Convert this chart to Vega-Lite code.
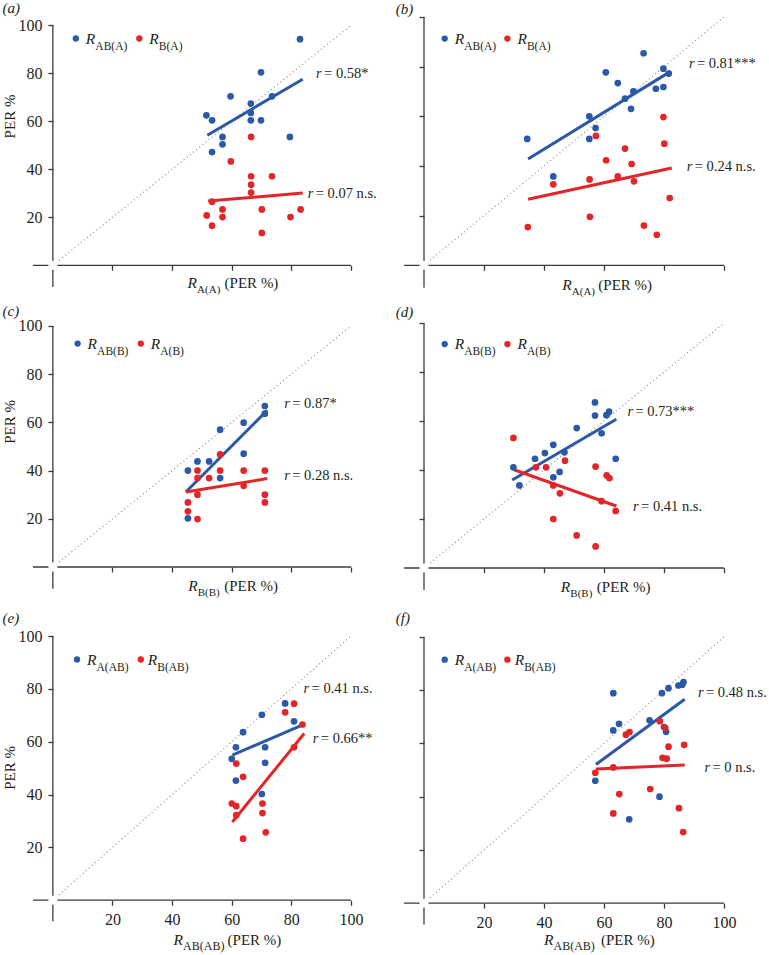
{
"$schema":"https://vega.github.io/schema/vega-lite/v6.json",
"padding":{"left":2,"top":0,"right":0,"bottom":0},
"background":"white",
"config":{"view":{"stroke":null},"font":"Liberation Serif",
"text":{"font":"Liberation Serif","fontSize":15,"color":"#231F20"},
"axis":{"grid":false,"domain":false,"tickColor":"#3A3A3A","tickWidth":1.3,"tickSize":5,"labelFont":"Liberation Serif","labelFontSize":16,"labelColor":"#231F20","labelPadding":6,"labelFlush":false}},
"datasets":{
"one":[{}],
"pts":[
{"p":"a","s":"s1","x":82.9,"y":94.2},{"p":"a","s":"s1","x":69.8,"y":80.4},{"p":"a","s":"s1","x":59.6,"y":70.4},{"p":"a","s":"s1","x":73.5,"y":70.4},{"p":"a","s":"s1","x":66.4,"y":67.4},{"p":"a","s":"s1","x":66.4,"y":63.5},{"p":"a","s":"s1","x":66.4,"y":60.4},{"p":"a","s":"s1","x":69.8,"y":60.4},{"p":"a","s":"s1","x":51.5,"y":62.5},{"p":"a","s":"s1","x":53.4,"y":60.4},{"p":"a","s":"s1","x":56.9,"y":53.5},{"p":"a","s":"s1","x":56.9,"y":50.4},{"p":"a","s":"s1","x":53.4,"y":47.2},{"p":"a","s":"s1","x":79.5,"y":53.5},
{"p":"a","s":"s2","x":66.5,"y":53.5},{"p":"a","s":"s2","x":59.7,"y":43.3},{"p":"a","s":"s2","x":66.5,"y":37.1},{"p":"a","s":"s2","x":66.5,"y":33.6},{"p":"a","s":"s2","x":66.5,"y":30.3},{"p":"a","s":"s2","x":73.5,"y":37.1},{"p":"a","s":"s2","x":53.4,"y":26.5},{"p":"a","s":"s2","x":56.9,"y":23.3},{"p":"a","s":"s2","x":56.9,"y":20.1},{"p":"a","s":"s2","x":51.6,"y":20.8},{"p":"a","s":"s2","x":53.4,"y":16.5},{"p":"a","s":"s2","x":70.1,"y":23.3},{"p":"a","s":"s2","x":70.1,"y":13.5},{"p":"a","s":"s2","x":79.7,"y":20.1},{"p":"a","s":"s2","x":83.1,"y":23.3},
{"p":"b","s":"s1","x":34.4,"y":50.9},{"p":"b","s":"s1","x":43.1,"y":35.8},{"p":"b","s":"s1","x":55.1,"y":60.0},{"p":"b","s":"s1","x":57.2,"y":55.3},{"p":"b","s":"s1","x":55.1,"y":50.9},{"p":"b","s":"s1","x":60.6,"y":77.7},{"p":"b","s":"s1","x":64.6,"y":73.4},{"p":"b","s":"s1","x":67.0,"y":67.1},{"p":"b","s":"s1","x":69.8,"y":70.1},{"p":"b","s":"s1","x":69.0,"y":63.0},{"p":"b","s":"s1","x":73.2,"y":85.4},{"p":"b","s":"s1","x":77.3,"y":71.1},{"p":"b","s":"s1","x":79.8,"y":71.8},{"p":"b","s":"s1","x":79.8,"y":79.2},{"p":"b","s":"s1","x":81.6,"y":77.2},
{"p":"b","s":"s2","x":34.6,"y":15.4},{"p":"b","s":"s2","x":43.1,"y":32.6},{"p":"b","s":"s2","x":55.2,"y":34.6},{"p":"b","s":"s2","x":57.3,"y":52.1},{"p":"b","s":"s2","x":55.3,"y":19.5},{"p":"b","s":"s2","x":60.7,"y":42.3},{"p":"b","s":"s2","x":64.6,"y":35.8},{"p":"b","s":"s2","x":67.0,"y":47.0},{"p":"b","s":"s2","x":69.2,"y":40.8},{"p":"b","s":"s2","x":70.0,"y":33.8},{"p":"b","s":"s2","x":79.8,"y":59.7},{"p":"b","s":"s2","x":80.1,"y":49.0},{"p":"b","s":"s2","x":81.9,"y":27.1},{"p":"b","s":"s2","x":73.3,"y":16.0},{"p":"b","s":"s2","x":77.6,"y":12.3},
{"p":"c","s":"s1","x":45.3,"y":40.0},{"p":"c","s":"s1","x":48.5,"y":43.8},{"p":"c","s":"s1","x":52.4,"y":43.8},{"p":"c","s":"s1","x":56.1,"y":57.0},{"p":"c","s":"s1","x":56.1,"y":36.9},{"p":"c","s":"s1","x":64.0,"y":59.9},{"p":"c","s":"s1","x":64.0,"y":47.0},{"p":"c","s":"s1","x":71.1,"y":66.8},{"p":"c","s":"s1","x":71.1,"y":63.6},{"p":"c","s":"s1","x":45.3,"y":20.2},
{"p":"c","s":"s2","x":45.3,"y":26.8},{"p":"c","s":"s2","x":45.3,"y":23.1},{"p":"c","s":"s2","x":48.5,"y":40.0},{"p":"c","s":"s2","x":48.5,"y":36.9},{"p":"c","s":"s2","x":48.5,"y":30.0},{"p":"c","s":"s2","x":48.5,"y":19.9},{"p":"c","s":"s2","x":52.4,"y":36.9},{"p":"c","s":"s2","x":56.1,"y":46.7},{"p":"c","s":"s2","x":56.1,"y":40.0},{"p":"c","s":"s2","x":64.0,"y":40.0},{"p":"c","s":"s2","x":64.0,"y":33.7},{"p":"c","s":"s2","x":71.1,"y":40.0},{"p":"c","s":"s2","x":71.1,"y":30.0},{"p":"c","s":"s2","x":71.1,"y":26.8},
{"p":"d","s":"s1","x":29.8,"y":41.1},{"p":"d","s":"s1","x":31.8,"y":33.7},{"p":"d","s":"s1","x":37.0,"y":44.6},{"p":"d","s":"s1","x":40.3,"y":46.9},{"p":"d","s":"s1","x":43.1,"y":50.3},{"p":"d","s":"s1","x":43.1,"y":37.0},{"p":"d","s":"s1","x":45.2,"y":39.2},{"p":"d","s":"s1","x":46.8,"y":47.2},{"p":"d","s":"s1","x":50.9,"y":57.1},{"p":"d","s":"s1","x":57.0,"y":67.6},{"p":"d","s":"s1","x":57.0,"y":62.2},{"p":"d","s":"s1","x":59.2,"y":55.0},{"p":"d","s":"s1","x":60.8,"y":62.4},{"p":"d","s":"s1","x":61.7,"y":63.8},{"p":"d","s":"s1","x":63.9,"y":44.6},
{"p":"d","s":"s2","x":29.8,"y":53.1},{"p":"d","s":"s2","x":37.3,"y":41.1},{"p":"d","s":"s2","x":40.7,"y":41.1},{"p":"d","s":"s2","x":47.0,"y":43.8},{"p":"d","s":"s2","x":43.1,"y":33.7},{"p":"d","s":"s2","x":45.3,"y":30.5},{"p":"d","s":"s2","x":43.1,"y":20.0},{"p":"d","s":"s2","x":50.9,"y":13.3},{"p":"d","s":"s2","x":57.2,"y":8.8},{"p":"d","s":"s2","x":57.2,"y":41.4},{"p":"d","s":"s2","x":60.9,"y":37.8},{"p":"d","s":"s2","x":61.8,"y":36.7},{"p":"d","s":"s2","x":59.2,"y":27.3},{"p":"d","s":"s2","x":63.9,"y":23.3},
{"p":"e","s":"s1","x":60.0,"y":53.5},{"p":"e","s":"s1","x":61.4,"y":57.9},{"p":"e","s":"s1","x":61.4,"y":45.3},{"p":"e","s":"s1","x":63.8,"y":63.6},{"p":"e","s":"s1","x":70.1,"y":70.2},{"p":"e","s":"s1","x":71.2,"y":57.9},{"p":"e","s":"s1","x":71.2,"y":52.0},{"p":"e","s":"s1","x":70.1,"y":40.2},{"p":"e","s":"s1","x":77.9,"y":74.5},{"p":"e","s":"s1","x":80.9,"y":67.7},
{"p":"e","s":"s2","x":61.5,"y":51.7},{"p":"e","s":"s2","x":63.8,"y":46.7},{"p":"e","s":"s2","x":60.0,"y":36.6},{"p":"e","s":"s2","x":61.5,"y":35.6},{"p":"e","s":"s2","x":61.5,"y":32.2},{"p":"e","s":"s2","x":63.8,"y":23.3},{"p":"e","s":"s2","x":70.3,"y":36.6},{"p":"e","s":"s2","x":70.3,"y":33.0},{"p":"e","s":"s2","x":71.4,"y":25.7},{"p":"e","s":"s2","x":77.9,"y":71.1},{"p":"e","s":"s2","x":80.9,"y":74.4},{"p":"e","s":"s2","x":80.9,"y":57.9},{"p":"e","s":"s2","x":83.7,"y":66.5},
{"p":"f","s":"s1","x":57.1,"y":46.0},{"p":"f","s":"s1","x":63.1,"y":78.9},{"p":"f","s":"s1","x":63.1,"y":64.9},{"p":"f","s":"s1","x":65.0,"y":67.4},{"p":"f","s":"s1","x":75.2,"y":68.7},{"p":"f","s":"s1","x":79.3,"y":78.9},{"p":"f","s":"s1","x":81.5,"y":80.8},{"p":"f","s":"s1","x":84.8,"y":81.8},{"p":"f","s":"s1","x":86.5,"y":83.1},{"p":"f","s":"s1","x":86.1,"y":82.1},{"p":"f","s":"s1","x":80.0,"y":66.2},{"p":"f","s":"s1","x":80.7,"y":64.4},{"p":"f","s":"s1","x":78.5,"y":40.0},{"p":"f","s":"s1","x":68.4,"y":31.5},
{"p":"f","s":"s2","x":57.1,"y":49.0},{"p":"f","s":"s2","x":63.1,"y":51.0},{"p":"f","s":"s2","x":67.3,"y":63.3},{"p":"f","s":"s2","x":68.5,"y":64.3},{"p":"f","s":"s2","x":78.6,"y":68.4},{"p":"f","s":"s2","x":80.4,"y":65.9},{"p":"f","s":"s2","x":81.5,"y":58.8},{"p":"f","s":"s2","x":86.7,"y":59.5},{"p":"f","s":"s2","x":79.5,"y":54.6},{"p":"f","s":"s2","x":80.9,"y":54.3},{"p":"f","s":"s2","x":75.4,"y":42.9},{"p":"f","s":"s2","x":65.1,"y":41.0},{"p":"f","s":"s2","x":63.1,"y":33.7},{"p":"f","s":"s2","x":85.0,"y":35.7},{"p":"f","s":"s2","x":86.4,"y":26.7}
],
"fits":[
{"p":"a","s":"s1","x":51.8,"y":54.2},{"p":"a","s":"s1","x":83.8,"y":77.5},{"p":"a","s":"s2","x":52.1,"y":26.8},{"p":"a","s":"s2","x":83.8,"y":30.1},
{"p":"b","s":"s1","x":34.7,"y":42.8},{"p":"b","s":"s1","x":82.2,"y":78.1},{"p":"b","s":"s2","x":34.7,"y":26.6},{"p":"b","s":"s2","x":82.6,"y":39.2},
{"p":"c","s":"s1","x":44.6,"y":31.1},{"p":"c","s":"s1","x":71.9,"y":65.0},{"p":"c","s":"s2","x":44.6,"y":31.1},{"p":"c","s":"s2","x":71.9,"y":36.7},
{"p":"d","s":"s1","x":29.4,"y":35.9},{"p":"d","s":"s1","x":64.1,"y":60.7},{"p":"d","s":"s2","x":30.0,"y":40.1},{"p":"d","s":"s2","x":64.1,"y":25.3},
{"p":"e","s":"s1","x":60.2,"y":54.9},{"p":"e","s":"s1","x":83.2,"y":66.1},{"p":"e","s":"s2","x":60.2,"y":29.6},{"p":"e","s":"s2","x":84.3,"y":63.1},
{"p":"f","s":"s1","x":57.3,"y":52.1},{"p":"f","s":"s1","x":86.9,"y":76.6},{"p":"f","s":"s2","x":57.3,"y":50.4},{"p":"f","s":"s2","x":86.9,"y":51.9}
]},
"columns":2,
"bounds":"flush",
"spacing":{"row":30,"column":52},
"concat":[
{"width":319,"height":276,"data":{"name":"one"},"layer":[
{"mark":{"type":"rule","color":"#8C8C8C","strokeWidth":1.2,"strokeDash":[1,3]},"encoding":{"x":{"datum":0},"y":{"datum":0},"x2":{"datum":100},"y2":{"datum":100}}},
{"mark":{"type":"rule","color":"#3A3A3A","strokeWidth":1.3},"encoding":{"x":{"datum":-6.7},"x2":{"datum":100},"y":{"datum":0}}},
{"mark":{"type":"rule","color":"#3A3A3A","strokeWidth":1.3},"encoding":{"x":{"datum":0},"y":{"datum":-9},"y2":{"datum":100}}},
{"mark":{"type":"square","color":"white","size":80,"opacity":1,"filled":true},"encoding":{"x":{"datum":0},"y":{"datum":0}}},
{"data":{"name":"fits"},"transform":[{"filter":"datum.p==='a'"}],"mark":{"type":"line","strokeWidth":3},"encoding":{"x":{"field":"x","type":"quantitative","title":null},"y":{"field":"y","type":"quantitative","title":null},"color":{"field":"s","type":"nominal","scale":{"domain":["s1","s2"],"range":["#2B58A7","#E42528"]},"legend":null}}},
{"data":{"name":"pts"},"transform":[{"filter":"datum.p==='a'"}],"mark":{"type":"circle","size":45,"opacity":1},"encoding":{"x":{"field":"x","type":"quantitative","title":null,"scale":{"domain":[-7,100],"nice":false,"zero":false},"axis":{"values":[20,40,60,80,100],"labels":false,"offset":-27.7,"title":null}},"y":{"field":"y","type":"quantitative","title":null,"scale":{"domain":[-11.54,103.46],"nice":false,"zero":false},"axis":{"values":[20,40,60,80,100],"labels":true,"offset":-20.9,"title":null}},"color":{"field":"s","type":"nominal","scale":{"domain":["s1","s2"],"range":["#2B58A7","#E42528"]},"legend":null}}},
{"mark":{"type":"circle","size":40,"color":"#2B58A7","opacity":1},"encoding":{"x":{"datum":7.7},"y":{"datum":94.5}}},
{"mark":{"type":"text","fontStyle":"italic","align":"left","baseline":"alphabetic","fontSize":15.5,"dx":10,"dy":5},"encoding":{"x":{"datum":7.7},"y":{"datum":94.5},"text":{"value":"R"}}},
{"mark":{"type":"text","align":"left","baseline":"alphabetic","fontSize":11.5,"dx":19.5,"dy":11},"encoding":{"x":{"datum":7.7},"y":{"datum":94.5},"text":{"value":"AB(A)"}}},
{"mark":{"type":"circle","size":40,"color":"#E42528","opacity":1},"encoding":{"x":{"datum":29.0},"y":{"datum":94.5}}},
{"mark":{"type":"text","fontStyle":"italic","align":"left","baseline":"alphabetic","fontSize":15.5,"dx":10,"dy":5},"encoding":{"x":{"datum":29.0},"y":{"datum":94.5},"text":{"value":"R"}}},
{"mark":{"type":"text","align":"left","baseline":"alphabetic","fontSize":11.5,"dx":19.5,"dy":11},"encoding":{"x":{"datum":29.0},"y":{"datum":94.5},"text":{"value":"B(A)"}}},
{"mark":{"type":"text","fontStyle":"italic","align":"left","baseline":"middle","fontSize":14.5},"encoding":{"x":{"datum":88.3},"y":{"datum":79.6},"text":{"value":"r"}}},
{"mark":{"type":"text","align":"left","baseline":"middle","fontSize":14.5,"dx":8},"encoding":{"x":{"datum":88.3},"y":{"datum":79.6},"text":{"value":"= 0.58*"}}},
{"mark":{"type":"text","fontStyle":"italic","align":"left","baseline":"middle","fontSize":14.5},"encoding":{"x":{"datum":85.5},"y":{"datum":29.9},"text":{"value":"r"}}},
{"mark":{"type":"text","align":"left","baseline":"middle","fontSize":14.5,"dx":8},"encoding":{"x":{"datum":85.5},"y":{"datum":29.9},"text":{"value":"= 0.07 n.s."}}},
{"mark":{"type":"text","fontStyle":"italic","align":"left","baseline":"middle","fontSize":15},"encoding":{"x":{"datum":-16.9},"y":{"datum":107.3},"text":{"value":"(a)"}}},
{"mark":{"type":"text","fontStyle":"italic","align":"left","baseline":"alphabetic","fontSize":15.5},"encoding":{"x":{"datum":45.2},"y":{"datum":-9.6},"text":{"value":"R"}}},
{"mark":{"type":"text","align":"left","baseline":"alphabetic","fontSize":11,"dx":9.5,"dy":5},"encoding":{"x":{"datum":45.2},"y":{"datum":-9.6},"text":{"value":"A(A)"}}},
{"mark":{"type":"text","align":"left","baseline":"alphabetic","fontSize":15,"dx":37},"encoding":{"x":{"datum":45.2},"y":{"datum":-9.6},"text":{"value":"(PER %)"}}},
{"mark":{"type":"text","angle":270,"align":"center","baseline":"middle","fontSize":15},"encoding":{"x":{"datum":-14.3},"y":{"datum":62},"text":{"value":"PER %"}}}
]},
{"width":321,"height":276,"data":{"name":"one"},"layer":[
{"mark":{"type":"rule","color":"#8C8C8C","strokeWidth":1.2,"strokeDash":[1,3]},"encoding":{"x":{"datum":0},"y":{"datum":0},"x2":{"datum":100},"y2":{"datum":100}}},
{"mark":{"type":"rule","color":"#3A3A3A","strokeWidth":1.3},"encoding":{"x":{"datum":-6.7},"x2":{"datum":100},"y":{"datum":0}}},
{"mark":{"type":"rule","color":"#3A3A3A","strokeWidth":1.3},"encoding":{"x":{"datum":0},"y":{"datum":-9},"y2":{"datum":100}}},
{"mark":{"type":"square","color":"white","size":80,"opacity":1,"filled":true},"encoding":{"x":{"datum":0},"y":{"datum":0}}},
{"data":{"name":"fits"},"transform":[{"filter":"datum.p==='b'"}],"mark":{"type":"line","strokeWidth":3},"encoding":{"x":{"field":"x","type":"quantitative","title":null},"y":{"field":"y","type":"quantitative","title":null},"color":{"field":"s","type":"nominal","scale":{"domain":["s1","s2"],"range":["#2B58A7","#E42528"]},"legend":null}}},
{"data":{"name":"pts"},"transform":[{"filter":"datum.p==='b'"}],"mark":{"type":"circle","size":45,"opacity":1},"encoding":{"x":{"field":"x","type":"quantitative","title":null,"scale":{"domain":[-7,100],"nice":false,"zero":false},"axis":{"values":[20,40,60,80,100],"labels":false,"offset":-27.7,"title":null}},"y":{"field":"y","type":"quantitative","title":null,"scale":{"domain":[-11.16,100],"nice":false,"zero":false},"axis":{"values":[20,40,60,80,100],"labels":false,"offset":-21,"title":null}},"color":{"field":"s","type":"nominal","scale":{"domain":["s1","s2"],"range":["#2B58A7","#E42528"]},"legend":null}}},
{"mark":{"type":"circle","size":40,"color":"#2B58A7","opacity":1},"encoding":{"x":{"datum":6.9},"y":{"datum":91.3}}},
{"mark":{"type":"text","fontStyle":"italic","align":"left","baseline":"alphabetic","fontSize":15.5,"dx":10,"dy":5},"encoding":{"x":{"datum":6.9},"y":{"datum":91.3},"text":{"value":"R"}}},
{"mark":{"type":"text","align":"left","baseline":"alphabetic","fontSize":11.5,"dx":19.5,"dy":11},"encoding":{"x":{"datum":6.9},"y":{"datum":91.3},"text":{"value":"AB(A)"}}},
{"mark":{"type":"circle","size":40,"color":"#E42528","opacity":1},"encoding":{"x":{"datum":27.8},"y":{"datum":91.3}}},
{"mark":{"type":"text","fontStyle":"italic","align":"left","baseline":"alphabetic","fontSize":15.5,"dx":10,"dy":5},"encoding":{"x":{"datum":27.8},"y":{"datum":91.3},"text":{"value":"R"}}},
{"mark":{"type":"text","align":"left","baseline":"alphabetic","fontSize":11.5,"dx":19.5,"dy":11},"encoding":{"x":{"datum":27.8},"y":{"datum":91.3},"text":{"value":"B(A)"}}},
{"mark":{"type":"text","fontStyle":"italic","align":"left","baseline":"middle","fontSize":14.5},"encoding":{"x":{"datum":88.3},"y":{"datum":81.2},"text":{"value":"r"}}},
{"mark":{"type":"text","align":"left","baseline":"middle","fontSize":14.5,"dx":8},"encoding":{"x":{"datum":88.3},"y":{"datum":81.2},"text":{"value":"= 0.81***"}}},
{"mark":{"type":"text","fontStyle":"italic","align":"left","baseline":"middle","fontSize":14.5},"encoding":{"x":{"datum":87.6},"y":{"datum":39.6},"text":{"value":"r"}}},
{"mark":{"type":"text","align":"left","baseline":"middle","fontSize":14.5,"dx":8},"encoding":{"x":{"datum":87.6},"y":{"datum":39.6},"text":{"value":"= 0.24 n.s."}}},
{"mark":{"type":"text","fontStyle":"italic","align":"left","baseline":"middle","fontSize":15},"encoding":{"x":{"datum":-9.4},"y":{"datum":103.1},"text":{"value":"(b)"}}},
{"mark":{"type":"text","fontStyle":"italic","align":"left","baseline":"alphabetic","fontSize":15.5},"encoding":{"x":{"datum":46.1},"y":{"datum":-9.8},"text":{"value":"R"}}},
{"mark":{"type":"text","align":"left","baseline":"alphabetic","fontSize":11,"dx":9.5,"dy":5},"encoding":{"x":{"datum":46.1},"y":{"datum":-9.8},"text":{"value":"A(A)"}}},
{"mark":{"type":"text","align":"left","baseline":"alphabetic","fontSize":15,"dx":36},"encoding":{"x":{"datum":46.1},"y":{"datum":-9.8},"text":{"value":"(PER %)"}}}
]},
{"width":319,"height":283,"data":{"name":"one"},"layer":[
{"mark":{"type":"rule","color":"#8C8C8C","strokeWidth":1.2,"strokeDash":[1,3]},"encoding":{"x":{"datum":0},"y":{"datum":0},"x2":{"datum":100},"y2":{"datum":100}}},
{"mark":{"type":"rule","color":"#3A3A3A","strokeWidth":1.3},"encoding":{"x":{"datum":-6.7},"x2":{"datum":100},"y":{"datum":0}}},
{"mark":{"type":"rule","color":"#3A3A3A","strokeWidth":1.3},"encoding":{"x":{"datum":0},"y":{"datum":-9},"y2":{"datum":100}}},
{"mark":{"type":"square","color":"white","size":80,"opacity":1,"filled":true},"encoding":{"x":{"datum":0},"y":{"datum":0}}},
{"data":{"name":"fits"},"transform":[{"filter":"datum.p==='c'"}],"mark":{"type":"line","strokeWidth":3},"encoding":{"x":{"field":"x","type":"quantitative","title":null},"y":{"field":"y","type":"quantitative","title":null},"color":{"field":"s","type":"nominal","scale":{"domain":["s1","s2"],"range":["#2B58A7","#E42528"]},"legend":null}}},
{"data":{"name":"pts"},"transform":[{"filter":"datum.p==='c'"}],"mark":{"type":"circle","size":45,"opacity":1},"encoding":{"x":{"field":"x","type":"quantitative","title":null,"scale":{"domain":[-7,100],"nice":false,"zero":false},"axis":{"values":[20,40,60,80,100],"labels":false,"offset":-39,"title":null}},"y":{"field":"y","type":"quantitative","title":null,"scale":{"domain":[-16.18,101.24],"nice":false,"zero":false},"axis":{"values":[20,40,60,80,100],"labels":true,"offset":-20.9,"title":null}},"color":{"field":"s","type":"nominal","scale":{"domain":["s1","s2"],"range":["#2B58A7","#E42528"]},"legend":null}}},
{"mark":{"type":"circle","size":40,"color":"#2B58A7","opacity":1},"encoding":{"x":{"datum":8.3},"y":{"datum":92.7}}},
{"mark":{"type":"text","fontStyle":"italic","align":"left","baseline":"alphabetic","fontSize":15.5,"dx":10,"dy":5},"encoding":{"x":{"datum":8.3},"y":{"datum":92.7},"text":{"value":"R"}}},
{"mark":{"type":"text","align":"left","baseline":"alphabetic","fontSize":11.5,"dx":19.5,"dy":11},"encoding":{"x":{"datum":8.3},"y":{"datum":92.7},"text":{"value":"AB(B)"}}},
{"mark":{"type":"circle","size":40,"color":"#E42528","opacity":1},"encoding":{"x":{"datum":29.5},"y":{"datum":92.7}}},
{"mark":{"type":"text","fontStyle":"italic","align":"left","baseline":"alphabetic","fontSize":15.5,"dx":10,"dy":5},"encoding":{"x":{"datum":29.5},"y":{"datum":92.7},"text":{"value":"R"}}},
{"mark":{"type":"text","align":"left","baseline":"alphabetic","fontSize":11.5,"dx":19.5,"dy":11},"encoding":{"x":{"datum":29.5},"y":{"datum":92.7},"text":{"value":"A(B)"}}},
{"mark":{"type":"text","fontStyle":"italic","align":"left","baseline":"middle","fontSize":14.5},"encoding":{"x":{"datum":77.6},"y":{"datum":67.8},"text":{"value":"r"}}},
{"mark":{"type":"text","align":"left","baseline":"middle","fontSize":14.5,"dx":8},"encoding":{"x":{"datum":77.6},"y":{"datum":67.8},"text":{"value":"= 0.87*"}}},
{"mark":{"type":"text","fontStyle":"italic","align":"left","baseline":"middle","fontSize":14.5},"encoding":{"x":{"datum":77.6},"y":{"datum":37.8},"text":{"value":"r"}}},
{"mark":{"type":"text","align":"left","baseline":"middle","fontSize":14.5,"dx":8},"encoding":{"x":{"datum":77.6},"y":{"datum":37.8},"text":{"value":"= 0.28 n.s."}}},
{"mark":{"type":"text","fontStyle":"italic","align":"left","baseline":"middle","fontSize":15},"encoding":{"x":{"datum":-16.9},"y":{"datum":106.1},"text":{"value":"(c)"}}},
{"mark":{"type":"text","fontStyle":"italic","align":"left","baseline":"alphabetic","fontSize":15.5},"encoding":{"x":{"datum":45.4},"y":{"datum":-10.1},"text":{"value":"R"}}},
{"mark":{"type":"text","align":"left","baseline":"alphabetic","fontSize":11,"dx":9.5,"dy":5},"encoding":{"x":{"datum":45.4},"y":{"datum":-10.1},"text":{"value":"B(B)"}}},
{"mark":{"type":"text","align":"left","baseline":"alphabetic","fontSize":15,"dx":36},"encoding":{"x":{"datum":45.4},"y":{"datum":-10.1},"text":{"value":"(PER %)"}}},
{"mark":{"type":"text","angle":270,"align":"center","baseline":"middle","fontSize":15},"encoding":{"x":{"datum":-14.3},"y":{"datum":60.2},"text":{"value":"PER %"}}}
]},
{"width":321,"height":283,"data":{"name":"one"},"layer":[
{"mark":{"type":"rule","color":"#8C8C8C","strokeWidth":1.2,"strokeDash":[1,3]},"encoding":{"x":{"datum":0},"y":{"datum":0},"x2":{"datum":100},"y2":{"datum":100}}},
{"mark":{"type":"rule","color":"#3A3A3A","strokeWidth":1.3},"encoding":{"x":{"datum":-6.7},"x2":{"datum":100},"y":{"datum":0}}},
{"mark":{"type":"rule","color":"#3A3A3A","strokeWidth":1.3},"encoding":{"x":{"datum":0},"y":{"datum":-9},"y2":{"datum":100}}},
{"mark":{"type":"square","color":"white","size":80,"opacity":1,"filled":true},"encoding":{"x":{"datum":0},"y":{"datum":0}}},
{"data":{"name":"fits"},"transform":[{"filter":"datum.p==='d'"}],"mark":{"type":"line","strokeWidth":3},"encoding":{"x":{"field":"x","type":"quantitative","title":null},"y":{"field":"y","type":"quantitative","title":null},"color":{"field":"s","type":"nominal","scale":{"domain":["s1","s2"],"range":["#2B58A7","#E42528"]},"legend":null}}},
{"data":{"name":"pts"},"transform":[{"filter":"datum.p==='d'"}],"mark":{"type":"circle","size":45,"opacity":1},"encoding":{"x":{"field":"x","type":"quantitative","title":null,"scale":{"domain":[-7,100],"nice":false,"zero":false},"axis":{"values":[20,40,60,80,100],"labels":false,"offset":-38.3,"title":null}},"y":{"field":"y","type":"quantitative","title":null,"scale":{"domain":[-15.5,100],"nice":false,"zero":false},"axis":{"values":[20,40,60,80,100],"labels":false,"offset":-21,"title":null}},"color":{"field":"s","type":"nominal","scale":{"domain":["s1","s2"],"range":["#2B58A7","#E42528"]},"legend":null}}},
{"mark":{"type":"circle","size":40,"color":"#2B58A7","opacity":1},"encoding":{"x":{"datum":6.9},"y":{"datum":91.4}}},
{"mark":{"type":"text","fontStyle":"italic","align":"left","baseline":"alphabetic","fontSize":15.5,"dx":10,"dy":5},"encoding":{"x":{"datum":6.9},"y":{"datum":91.4},"text":{"value":"R"}}},
{"mark":{"type":"text","align":"left","baseline":"alphabetic","fontSize":11.5,"dx":19.5,"dy":11},"encoding":{"x":{"datum":6.9},"y":{"datum":91.4},"text":{"value":"AB(B)"}}},
{"mark":{"type":"circle","size":40,"color":"#E42528","opacity":1},"encoding":{"x":{"datum":27.8},"y":{"datum":91.4}}},
{"mark":{"type":"text","fontStyle":"italic","align":"left","baseline":"alphabetic","fontSize":15.5,"dx":10,"dy":5},"encoding":{"x":{"datum":27.8},"y":{"datum":91.4},"text":{"value":"R"}}},
{"mark":{"type":"text","align":"left","baseline":"alphabetic","fontSize":11.5,"dx":19.5,"dy":11},"encoding":{"x":{"datum":27.8},"y":{"datum":91.4},"text":{"value":"A(B)"}}},
{"mark":{"type":"text","fontStyle":"italic","align":"left","baseline":"middle","fontSize":14.5},"encoding":{"x":{"datum":67.8},"y":{"datum":63.5},"text":{"value":"r"}}},
{"mark":{"type":"text","align":"left","baseline":"middle","fontSize":14.5,"dx":8},"encoding":{"x":{"datum":67.8},"y":{"datum":63.5},"text":{"value":"= 0.73***"}}},
{"mark":{"type":"text","fontStyle":"italic","align":"left","baseline":"middle","fontSize":14.5},"encoding":{"x":{"datum":69.7},"y":{"datum":25.0},"text":{"value":"r"}}},
{"mark":{"type":"text","align":"left","baseline":"middle","fontSize":14.5,"dx":8},"encoding":{"x":{"datum":69.7},"y":{"datum":25.0},"text":{"value":"= 0.41 n.s."}}},
{"mark":{"type":"text","fontStyle":"italic","align":"left","baseline":"middle","fontSize":15},"encoding":{"x":{"datum":-9.4},"y":{"datum":104.6},"text":{"value":"(d)"}}},
{"mark":{"type":"text","fontStyle":"italic","align":"left","baseline":"alphabetic","fontSize":15.5},"encoding":{"x":{"datum":45.6},"y":{"datum":-9.7},"text":{"value":"R"}}},
{"mark":{"type":"text","align":"left","baseline":"alphabetic","fontSize":11,"dx":9.5,"dy":5},"encoding":{"x":{"datum":45.6},"y":{"datum":-9.7},"text":{"value":"B(B)"}}},
{"mark":{"type":"text","align":"left","baseline":"alphabetic","fontSize":15,"dx":36},"encoding":{"x":{"datum":45.6},"y":{"datum":-9.7},"text":{"value":"(PER %)"}}}
]},
{"width":319,"height":288,"data":{"name":"one"},"layer":[
{"mark":{"type":"rule","color":"#8C8C8C","strokeWidth":1.2,"strokeDash":[1,3]},"encoding":{"x":{"datum":0},"y":{"datum":0},"x2":{"datum":100},"y2":{"datum":100}}},
{"mark":{"type":"rule","color":"#3A3A3A","strokeWidth":1.3},"encoding":{"x":{"datum":-6.7},"x2":{"datum":100},"y":{"datum":0}}},
{"mark":{"type":"rule","color":"#3A3A3A","strokeWidth":1.3},"encoding":{"x":{"datum":0},"y":{"datum":-8},"y2":{"datum":100}}},
{"mark":{"type":"square","color":"white","size":80,"opacity":1,"filled":true},"encoding":{"x":{"datum":0},"y":{"datum":0}}},
{"data":{"name":"fits"},"transform":[{"filter":"datum.p==='e'"}],"mark":{"type":"line","strokeWidth":3},"encoding":{"x":{"field":"x","type":"quantitative","title":null},"y":{"field":"y","type":"quantitative","title":null},"color":{"field":"s","type":"nominal","scale":{"domain":["s1","s2"],"range":["#2B58A7","#E42528"]},"legend":null}}},
{"data":{"name":"pts"},"transform":[{"filter":"datum.p==='e'"}],"mark":{"type":"circle","size":45,"opacity":1},"encoding":{"x":{"field":"x","type":"quantitative","title":null,"scale":{"domain":[-7,100],"nice":false,"zero":false},"axis":{"values":[20,40,60,80,100],"labels":true,"offset":-23.7,"title":null}},"y":{"field":"y","type":"quantitative","title":null,"scale":{"domain":[-9,100],"nice":false,"zero":false},"axis":{"values":[20,40,60,80,100],"labels":true,"offset":-20.9,"title":null}},"color":{"field":"s","type":"nominal","scale":{"domain":["s1","s2"],"range":["#2B58A7","#E42528"]},"legend":null}}},
{"mark":{"type":"circle","size":40,"color":"#2B58A7","opacity":1},"encoding":{"x":{"datum":8.1},"y":{"datum":91.1}}},
{"mark":{"type":"text","fontStyle":"italic","align":"left","baseline":"alphabetic","fontSize":15.5,"dx":10,"dy":5},"encoding":{"x":{"datum":8.1},"y":{"datum":91.1},"text":{"value":"R"}}},
{"mark":{"type":"text","align":"left","baseline":"alphabetic","fontSize":11.5,"dx":19.5,"dy":11},"encoding":{"x":{"datum":8.1},"y":{"datum":91.1},"text":{"value":"A(AB)"}}},
{"mark":{"type":"circle","size":40,"color":"#E42528","opacity":1},"encoding":{"x":{"datum":29.5},"y":{"datum":91.1}}},
{"mark":{"type":"text","fontStyle":"italic","align":"left","baseline":"alphabetic","fontSize":15.5,"dx":7,"dy":5},"encoding":{"x":{"datum":29.5},"y":{"datum":91.1},"text":{"value":"R"}}},
{"mark":{"type":"text","align":"left","baseline":"alphabetic","fontSize":11.5,"dx":16.5,"dy":11},"encoding":{"x":{"datum":29.5},"y":{"datum":91.1},"text":{"value":"B(AB)"}}},
{"mark":{"type":"text","fontStyle":"italic","align":"left","baseline":"middle","fontSize":14.5},"encoding":{"x":{"datum":84.1},"y":{"datum":80.1},"text":{"value":"r"}}},
{"mark":{"type":"text","align":"left","baseline":"middle","fontSize":14.5,"dx":8},"encoding":{"x":{"datum":84.1},"y":{"datum":80.1},"text":{"value":"= 0.41 n.s."}}},
{"mark":{"type":"text","fontStyle":"italic","align":"left","baseline":"middle","fontSize":14.5},"encoding":{"x":{"datum":87.2},"y":{"datum":60.9},"text":{"value":"r"}}},
{"mark":{"type":"text","align":"left","baseline":"middle","fontSize":14.5,"dx":8},"encoding":{"x":{"datum":87.2},"y":{"datum":60.9},"text":{"value":"= 0.66**"}}},
{"mark":{"type":"text","fontStyle":"italic","align":"left","baseline":"middle","fontSize":15},"encoding":{"x":{"datum":-16.9},"y":{"datum":106.7},"text":{"value":"(e)"}}},
{"mark":{"type":"text","fontStyle":"italic","align":"left","baseline":"alphabetic","fontSize":15.5},"encoding":{"x":{"datum":40.5},"y":{"datum":-17.0},"text":{"value":"R"}}},
{"mark":{"type":"text","align":"left","baseline":"alphabetic","fontSize":12,"dx":9.5,"dy":5},"encoding":{"x":{"datum":40.5},"y":{"datum":-17.0},"text":{"value":"AB(AB)"}}},
{"mark":{"type":"text","align":"left","baseline":"alphabetic","fontSize":15,"dx":54},"encoding":{"x":{"datum":40.5},"y":{"datum":-17.0},"text":{"value":"(PER %)"}}},
{"mark":{"type":"text","angle":270,"align":"center","baseline":"middle","fontSize":15},"encoding":{"x":{"datum":-14.3},"y":{"datum":50.1},"text":{"value":"PER %"}}}
]},
{"width":321,"height":290,"data":{"name":"one"},"layer":[
{"mark":{"type":"rule","color":"#8C8C8C","strokeWidth":1.2,"strokeDash":[1,3]},"encoding":{"x":{"datum":0},"y":{"datum":0},"x2":{"datum":100},"y2":{"datum":100}}},
{"mark":{"type":"rule","color":"#3A3A3A","strokeWidth":1.3},"encoding":{"x":{"datum":-6.7},"x2":{"datum":100},"y":{"datum":0}}},
{"mark":{"type":"rule","color":"#3A3A3A","strokeWidth":1.3},"encoding":{"x":{"datum":0},"y":{"datum":-8},"y2":{"datum":100}}},
{"mark":{"type":"square","color":"white","size":80,"opacity":1,"filled":true},"encoding":{"x":{"datum":0},"y":{"datum":0}}},
{"data":{"name":"fits"},"transform":[{"filter":"datum.p==='f'"}],"mark":{"type":"line","strokeWidth":3},"encoding":{"x":{"field":"x","type":"quantitative","title":null},"y":{"field":"y","type":"quantitative","title":null},"color":{"field":"s","type":"nominal","scale":{"domain":["s1","s2"],"range":["#2B58A7","#E42528"]},"legend":null}}},
{"data":{"name":"pts"},"transform":[{"filter":"datum.p==='f'"}],"mark":{"type":"circle","size":45,"opacity":1},"encoding":{"x":{"field":"x","type":"quantitative","title":null,"scale":{"domain":[-7,100],"nice":false,"zero":false},"axis":{"values":[20,40,60,80,100],"labels":true,"offset":-22.9,"title":null}},"y":{"field":"y","type":"quantitative","title":null,"scale":{"domain":[-8.6,100.4],"nice":false,"zero":false},"axis":{"values":[20,40,60,80,100],"labels":false,"offset":-21,"title":null}},"color":{"field":"s","type":"nominal","scale":{"domain":["s1","s2"],"range":["#2B58A7","#E42528"]},"legend":null}}},
{"mark":{"type":"circle","size":40,"color":"#2B58A7","opacity":1},"encoding":{"x":{"datum":6.9},"y":{"datum":91.5}}},
{"mark":{"type":"text","fontStyle":"italic","align":"left","baseline":"alphabetic","fontSize":15.5,"dx":10,"dy":5},"encoding":{"x":{"datum":6.9},"y":{"datum":91.5},"text":{"value":"R"}}},
{"mark":{"type":"text","align":"left","baseline":"alphabetic","fontSize":11.5,"dx":19.5,"dy":11},"encoding":{"x":{"datum":6.9},"y":{"datum":91.5},"text":{"value":"A(AB)"}}},
{"mark":{"type":"circle","size":40,"color":"#E42528","opacity":1},"encoding":{"x":{"datum":27.8},"y":{"datum":91.5}}},
{"mark":{"type":"text","fontStyle":"italic","align":"left","baseline":"alphabetic","fontSize":15.5,"dx":7.3,"dy":5},"encoding":{"x":{"datum":27.8},"y":{"datum":91.5},"text":{"value":"R"}}},
{"mark":{"type":"text","align":"left","baseline":"alphabetic","fontSize":11.5,"dx":16.8,"dy":11},"encoding":{"x":{"datum":27.8},"y":{"datum":91.5},"text":{"value":"B(AB)"}}},
{"mark":{"type":"text","fontStyle":"italic","align":"left","baseline":"middle","fontSize":14.5},"encoding":{"x":{"datum":91.3},"y":{"datum":78.9},"text":{"value":"r"}}},
{"mark":{"type":"text","align":"left","baseline":"middle","fontSize":14.5,"dx":8},"encoding":{"x":{"datum":91.3},"y":{"datum":78.9},"text":{"value":"= 0.48 n.s."}}},
{"mark":{"type":"text","fontStyle":"italic","align":"left","baseline":"middle","fontSize":14.5},"encoding":{"x":{"datum":93.5},"y":{"datum":50.8},"text":{"value":"r"}}},
{"mark":{"type":"text","align":"left","baseline":"middle","fontSize":14.5,"dx":8},"encoding":{"x":{"datum":93.5},"y":{"datum":50.8},"text":{"value":"= 0 n.s."}}},
{"mark":{"type":"text","fontStyle":"italic","align":"left","baseline":"middle","fontSize":15},"encoding":{"x":{"datum":-9.4},"y":{"datum":107.0},"text":{"value":"(f)"}}},
{"mark":{"type":"text","fontStyle":"italic","align":"left","baseline":"alphabetic","fontSize":15.5},"encoding":{"x":{"datum":40.0},"y":{"datum":-15.9},"text":{"value":"R"}}},
{"mark":{"type":"text","align":"left","baseline":"alphabetic","fontSize":12,"dx":9.5,"dy":5},"encoding":{"x":{"datum":40.0},"y":{"datum":-15.9},"text":{"value":"AB(AB)"}}},
{"mark":{"type":"text","align":"left","baseline":"alphabetic","fontSize":15,"dx":57},"encoding":{"x":{"datum":40.0},"y":{"datum":-15.9},"text":{"value":"(PER %)"}}}
]}
]
}
